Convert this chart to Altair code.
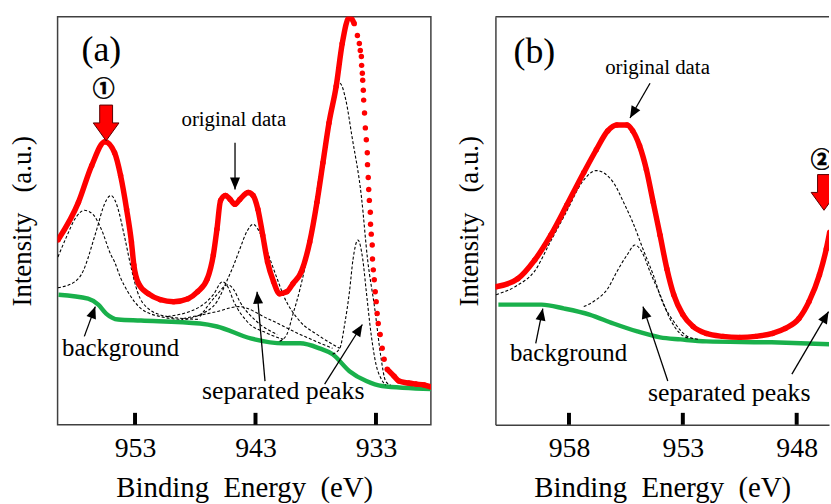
import altair as alt
import pandas as pd

SERIF = "Liberation Serif"

# ---------------- Panel (a) ----------------
a_domain = [959.43, 928.44]
a_ticks = [953, 943, 933]

# original data (dense part, drawn as thick dotted band)
a_red1_E = [959.4, 957.7, 956.6, 955.5, 954.7, 954.2, 953.7, 953.3, 953.1, 952.7, 951.9, 950.9,
            949.8, 948.6, 947.8, 947.0, 946.5, 946.2, 945.9, 945.5, 945.1, 944.7, 944.3, 943.6,
            943.2, 942.8, 942.4, 942.0, 941.5, 941.0, 940.4, 939.9, 939.2, 938.5, 937.9, 937.4,
            936.9, 936.3, 935.8, 935.2, 934.8]
a_red1_I = [186, 224, 261, 285, 274, 251, 217, 184, 161, 142, 132, 126,
            124, 127, 134, 147, 171, 197, 226, 231, 227, 222, 227, 234,
            231, 217, 191, 164, 144, 132, 134, 142, 154, 184, 224, 264,
            304, 341, 384, 411, 404]
# original data (steep high-energy-side drop, sparse dots)
a_red2_E = [934.54, 934.38, 934.30, 934.21, 934.19, 934.13, 934.10, 934.05, 934.02, 933.95, 933.88,
            933.80, 933.72, 933.70, 933.64, 933.60, 933.55, 933.47, 933.45, 933.39, 933.31, 933.29,
            933.22, 933.14, 933.06, 932.98, 932.90, 932.81, 932.65, 932.48, 932.32]
a_red2_I = [392, 384, 377, 371, 362, 354, 347, 337, 327, 314, 299,
            287, 274, 262, 249, 237, 226, 214, 202, 192, 181, 167,
            156, 146, 134, 124, 112, 102, 91, 77, 66]
# original data tail
a_red3_E = [932.07, 931.5, 931.1, 930.3, 929.7, 929.0, 928.4]
a_red3_I = [56, 49, 44, 42, 41, 40, 38]

# background
a_bg_E = [959.35, 956.9, 956.05, 955.4, 954.4, 952.5, 947.6, 946.2, 943.4, 940.7, 939.3,
          937.7, 936.6, 935.2, 933.8, 932.5, 928.4]
a_bg_I = [131, 127, 121, 112, 106, 105, 102, 99, 87, 82, 82, 77, 71, 54, 44, 39, 36]

# separated peaks
a_pA_E = [959.4, 958.7, 957.9, 957.2, 956.5, 955.8, 955.0, 954.7, 954.2, 953.6, 952.5, 950.9, 949.0]
a_pA_I = [169, 189, 209, 216, 212, 197, 171, 164, 148, 134, 117, 109, 106]
a_pB_E = [959.4, 958.0, 957.3, 956.9, 956.5, 956.1, 955.7, 955.0, 954.7, 954.4, 953.9, 953.3,
          952.8, 951.9, 950.3, 947.6]
a_pB_I = [138, 144, 155, 168, 184, 200, 217, 231, 227, 217, 191, 157, 134, 117, 109, 106]
a_pS1_E = [950.3, 947.6, 946.5, 945.75, 945.3, 944.8, 943.7, 942.0, 940.7]
a_pS1_I = [109, 119, 131, 144, 139, 124, 104, 92, 86]
a_pS2_E = [947.6, 946.2, 945.3, 944.8, 944.3, 942.9, 941.2]
a_pS2_I = [109, 131, 141, 136, 124, 104, 91]
a_pS3_E = [949.0, 946.2, 944.4, 942.0, 939.3, 936.6]
a_pS3_I = [107, 114, 119, 107, 91, 77]
a_pD_E = [948.8, 947.6, 946.2, 945.3, 944.8, 944.3, 943.7, 943.2, 942.8, 942.4, 941.8, 941.2,
          940.7, 939.3, 937.9, 936.6, 936.0]
a_pD_I = [106, 111, 124, 147, 161, 177, 195, 202, 197, 187, 167, 147, 131, 104, 91, 81, 77]
a_pE_E = [941.0, 940.4, 939.9, 939.3, 938.7, 938.2, 937.7, 937.1, 936.6, 936.0, 935.5, 935.0,
          934.2, 933.7, 933.1, 932.6, 932.2, 931.8]
a_pE_I = [84, 91, 111, 137, 171, 211, 251, 291, 324, 344, 327, 291, 229, 167, 117, 69, 44, 40]
a_pF_E = [936.6, 936.0, 935.6, 935.2, 934.9, 934.5, 934.1, 933.8, 933.4, 933.0, 932.6, 932.2]
a_pF_I = [71, 77, 101, 134, 167, 186, 167, 134, 91, 61, 47, 40]

a_text_label = ["(a)", "original data", "background", "separated peaks"]
a_text_E = [955.8, 944.8, 954.2, 940.7]
a_text_I = [366, 301, 69, 26]
a_text_fs = [36, 21, 25, 26]
a_circ = ["\u2460"]
a_circ_E = [955.6]
a_circ_I = [338]
a_blk_E = [955.4]
a_blk_I = [304]
a_arr_E = [944.7, 957.21, 942.21, 937.26]
a_arr_I = [284, 89, 44, 41]
a_arr_E2 = [944.7, 956.30, 942.87, 934.13]
a_arr_I2 = [237, 119, 134, 101]
a_arr_ang = [180, 20, 355, 32]

# ---------------- Panel (b) ----------------
b_domain = [961.23, 946.58]
b_ticks = [958, 953, 948]

b_red_E = [961.2, 960.25, 959.5, 958.8, 958.1, 957.35, 956.8, 956.3, 955.9, 955.45, 955.2, 954.9,
           954.6, 954.3, 954.0, 953.7, 953.4, 953.0, 952.55, 951.97, 951.24, 950.5, 949.8,
           949.06, 948.5, 947.9, 947.46, 947.0, 946.7, 946.55]
b_red_I = [139, 147, 166, 191, 221, 254, 277, 296, 302, 302, 296, 281,
           257, 224, 191, 157, 131, 111, 99, 92, 89, 88, 89,
           92, 97, 107, 124, 151, 177, 194]
b_bg_E = [961.1, 959.2, 958.2, 957.1, 956.05, 955.0, 954.0, 953.1, 951.97, 949.1, 946.55]
b_bg_I = [121, 121, 117, 111, 102, 94, 88, 86, 84, 83, 81]
b_p1_E = [961.2, 960.3, 959.5, 958.8, 958.1, 957.4, 956.8, 956.05, 955.6, 955.2, 954.75, 954.3,
          953.9, 953.4, 952.8, 952.3]
b_p1_I = [131, 140, 155, 185, 215, 245, 256, 244, 224, 204, 177, 151, 124, 104, 89, 86]
b_p2_E = [957.35, 956.8, 956.3, 955.9, 955.45, 955.1, 954.73, 954.44, 954.0, 953.57, 953.13, 952.7]
b_p2_I = [119, 126, 137, 154, 171, 181, 171, 154, 131, 107, 92, 87]

b_text_label = ["(b)", "original data", "background", "separated peaks"]
b_text_E = [959.52, 954.11, 958.02, 950.96]
b_text_I = [364, 353, 64, 24]
b_text_fs = [36, 21, 25, 26]
b_circ = ["\u2461"]
b_circ_E = [946.9]
b_circ_I = [267]
b_blk_E = [946.8]
b_blk_I = [234]
b_arr_E = [954.44, 959.46, 953.66, 948.21]
b_arr_I = [344, 82, 44, 51]
b_arr_E2 = [955.32, 959.15, 954.75, 946.60]
b_arr_I2 = [309, 117, 119, 114]
b_arr_ang = [210, 11, 342, 30]

HEAD = "M 0 0 L 0.42 1 L -0.42 1 Z"
BLOCK = "M -0.36 -1 L 0.36 -1 L 0.36 0 L 0.72 0 L 0 1 L -0.72 0 L -0.36 0 Z"
FRAME = "#404040"


def df(E, I, **extra):
    d = {"E": E, "I": I}
    d.update(extra)
    return pd.DataFrame(d)


def panel(dom, ticks, red_line, red_pts, bg, peaks, texts, circ, blk, arr, heads, ypad,
          width, open_right):
    xs = alt.Scale(domain=dom, nice=False, zero=False)
    ys = alt.Scale(domain=[0, 411], nice=False, zero=False)
    xax = alt.Axis(values=ticks, ticks=False, tickSize=0, domain=open_right, domainColor=FRAME,
                   domainWidth=1.5, grid=False,
                   labelFont=SERIF, labelFontSize=28, labelColor="black", labelPadding=10,
                   labelFlush=False, format="d",
                   title="Binding\u00a0\u00a0Energy\u00a0\u00a0(eV)", titleFont=SERIF,
                   titleFontSize=29, titleFontWeight="normal", titleColor="black",
                   titlePadding=11)
    yax = alt.Axis(labels=False, ticks=False, domain=open_right, domainColor=FRAME,
                   domainWidth=1.5, grid=False,
                   title="Intensity\u00a0\u00a0\u00a0(a.u.)", titleFont=SERIF, titleFontSize=27,
                   titleFontWeight="normal", titleColor="black", titlePadding=ypad)
    X = alt.X("E:Q", scale=xs, axis=xax)
    Y = alt.Y("I:Q", scale=ys, axis=yax)

    l_bg = alt.Chart(bg).mark_line(color="#19b04b", strokeWidth=4.5, interpolate="monotone",
                                   clip=True).encode(x=X, y=Y)
    l_pk = alt.Chart(peaks).mark_line(color="black", strokeWidth=1.1, strokeDash=[3, 2],
                                      interpolate="monotone", clip=True).encode(
        x=X, y=Y, detail="peak:N")
    l_red = alt.Chart(red_line).mark_line(color="#ff0000", strokeWidth=5.5, interpolate="monotone",
                                          clip=True).encode(x=X, y=Y, detail="seg:N")
    p_red = alt.Chart(red_pts).mark_circle(color="#ff0000", size=30, opacity=1,
                                           clip=True).encode(x=X, y=Y)
    tk = alt.Chart(pd.DataFrame({"E": ticks, "I": [0] * len(ticks)})).mark_rule(
        color="black", strokeWidth=4).encode(x=X, y=alt.value(411), y2=alt.value(399))
    shafts = alt.Chart(arr).mark_rule(color="black", strokeWidth=1.3, clip=True).encode(
        x=X, y=Y, x2="E2:Q", y2="I2:Q")
    hd = alt.Chart(heads).mark_point(shape=HEAD, size=576, filled=True, color="black",
                                     opacity=1, clip=True).encode(
        x=X, y=Y, angle=alt.Angle("ang:Q", scale=None))
    bk = alt.Chart(blk).mark_point(shape=BLOCK, size=1296, filled=True, fill="#ff0000",
                                   stroke="#5a0000", strokeWidth=1, opacity=1,
                                   clip=True).encode(x=X, y=Y)
    tx = alt.Chart(texts).mark_text(font=SERIF, baseline="alphabetic", align="center",
                                    color="black").encode(
        x=X, y=Y, text="label:N", size=alt.Size("fs:Q", scale=None))
    cc = alt.Chart(circ).mark_text(font="Noto Sans CJK JP", fontWeight="bold", fontSize=22,
                                   baseline="middle", align="center", color="black",
                                   stroke="black", strokeWidth=0.6,
                                   clip=True).encode(x=X, y=Y, text="label:N")
    layers = [l_bg, l_pk, l_red, p_red, tk, shafts, hd, bk, tx, cc]
    props = dict(width=width, height=411)
    if open_right:
        top = alt.Chart(pd.DataFrame({"E": ticks[:1], "I": [0]})).mark_rule(
            color=FRAME, strokeWidth=1.5).encode(x=alt.value(0), x2=alt.value(width),
                                                 y=alt.value(0))
        layers.append(top)
        props["view"] = alt.ViewBackground(stroke="transparent")
    return alt.layer(*layers).properties(**props)


# assemble panel (a)
a_red_line = pd.concat([df(a_red1_E, a_red1_I, seg="s1"), df(a_red3_E, a_red3_I, seg="s3")])
a_red_pts = pd.concat([df(a_red1_E, a_red1_I), df(a_red2_E, a_red2_I), df(a_red3_E, a_red3_I)])
a_peaks = pd.concat([
    df(a_pA_E, a_pA_I, peak="A"), df(a_pB_E, a_pB_I, peak="B"),
    df(a_pS1_E, a_pS1_I, peak="S1"), df(a_pS2_E, a_pS2_I, peak="S2"),
    df(a_pS3_E, a_pS3_I, peak="S3"), df(a_pD_E, a_pD_I, peak="D"),
    df(a_pE_E, a_pE_I, peak="E"), df(a_pF_E, a_pF_I, peak="F")])
pa = panel(a_domain, a_ticks, a_red_line, a_red_pts, df(a_bg_E, a_bg_I), a_peaks,
           df(a_text_E, a_text_I, label=a_text_label, fs=a_text_fs),
           df(a_circ_E, a_circ_I, label=a_circ), df(a_blk_E, a_blk_I),
           df(a_arr_E, a_arr_I, E2=a_arr_E2, I2=a_arr_I2),
           df(a_arr_E2, a_arr_I2, ang=a_arr_ang), 21, 376, False)

# assemble panel (b)
b_peaks = pd.concat([df(b_p1_E, b_p1_I, peak="P1"), df(b_p2_E, b_p2_I, peak="P2")])
pb = panel(b_domain, b_ticks, df(b_red_E, b_red_I, seg="s1"), df(b_red_E, b_red_I),
           df(b_bg_E, b_bg_I), b_peaks,
           df(b_text_E, b_text_I, label=b_text_label, fs=b_text_fs),
           df(b_circ_E, b_circ_I, label=b_circ), df(b_blk_E, b_blk_I),
           df(b_arr_E, b_arr_I, E2=b_arr_E2, I2=b_arr_I2),
           df(b_arr_E2, b_arr_I2, ang=b_arr_ang), 12, 336, True)

chart = alt.hconcat(pa, pb, spacing=23).properties(
    padding={"left": 8, "top": 13, "right": 0, "bottom": 0},
    background="white",
).configure(font=SERIF).configure_view(stroke=FRAME, strokeWidth=1.5)

chart.save("out.html", embed_options={"renderer": "svg", "actions": False})
